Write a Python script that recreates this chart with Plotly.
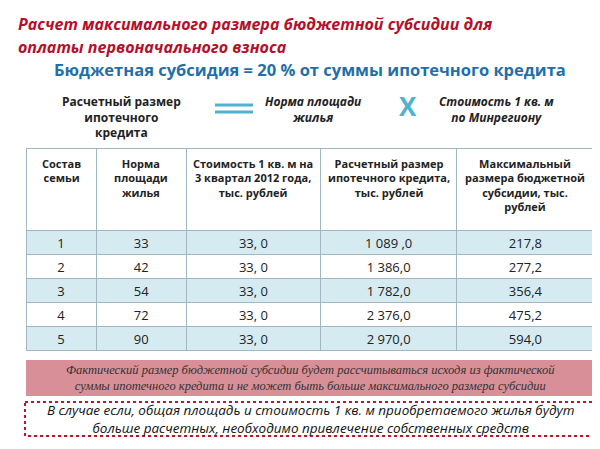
import plotly.graph_objects as go

headers = ['Состав<br>семьи', 'Норма<br>площади<br>жилья', 'Стоимость 1 кв. м на<br>3 квартал 2012 года,<br>тыс. рублей',
           'Расчетный размер<br>ипотечного кредита,<br>тыс. рублей', 'Максимальный<br>размера бюджетной<br>субсидии, тыс.<br>рублей']
family = ['1', '2', '3', '4', '5']
area_norm = ['33', '42', '54', '72', '90']
price_sqm = ['33, 0', '33, 0', '33, 0', '33, 0', '33, 0']
credit = ['1 089 ,0', '1 386,0', '1 782,0', '2 376,0', '2 970,0']
subsidy = ['217,8', '277,2', '356,4', '475,2', '594,0']

col_w = [70, 90, 134, 136, 137]
tbl_x0, tbl_x1 = 18, 586
row_fill = ['#d5ebf1' if i % 2 == 0 else 'white' for i in range(len(family))]

fig = go.Figure(go.Table(
    domain=dict(x=[tbl_x0/600, tbl_x1/600], y=[1 - 344/449, 1 - 140/449]),
    columnwidth=col_w,
    header=dict(values=[''] * 5, height=82, align='center', fill_color='white',
                line=dict(color='#9fb8c4', width=1),
                font=dict(family='Open Sans', size=11, color='#222')),
    cells=dict(values=[family, area_norm, price_sqm, credit, subsidy], height=24, align='center',
               fill_color=[row_fill] * 5, line=dict(color='#9fb8c4', width=1),
               font=dict(family='Open Sans', size=13, color='#222')),
))

# header labels as centred annotations (table header centres multiline text poorly)
scale = (tbl_x1 - tbl_x0) / sum(col_w)
left = tbl_x0
for h, w in zip(headers, col_w):
    cx = left + w * scale / 2
    left += w * scale
    fig.add_annotation(x=cx / 600, y=1 - 146 / 449, xref='paper', yref='paper', text='<b>' + h + '</b>',
                       showarrow=False, xanchor='center', yanchor='top', align='center',
                       font=dict(family='Open Sans', size=11, color='#222'))

ann = [
    dict(x=8, y=16, text='<b><i>Расчет максимального размера бюджетной субсидии для</i></b>', size=16, color='#b5102a', xa='left'),
    dict(x=8, y=39, text='<b><i>оплаты первоначального взноса</i></b>', size=16, color='#b5102a', xa='left'),
    dict(x=302, y=62, text='<b>Бюджетная субсидия = 20 % от суммы ипотечного кредита</b>', size=16.5, color='#1f6fa8', xa='center'),
    dict(x=113, y=109, text='<b>Расчетный размер<br>ипотечного<br>кредита</b>', size=12, color='#222', xa='center'),
    dict(x=305, y=101, text='<b><i>Норма площади<br>жилья</i></b>', size=12, color='#222', xa='center'),
    dict(x=400, y=98, text='<b>X</b>', size=26, color='#4fb3cf', xa='center'),
    dict(x=489, y=101, text='<b><i>Стоимость 1 кв. м<br>по Минрегиону</i></b>', size=12, color='#222', xa='center'),
    dict(x=302, y=370, text='<i>Фактический размер бюджетной субсидии будет рассчитываться исходя из фактической<br>суммы ипотечного кредита и не может быть больше максимального размера субсидии</i>',
         size=12.5, color='#333', xa='center', fam='Liberation Serif'),
    dict(x=302, y=411, text='<i>В случае если, общая площадь и стоимость 1 кв. м приобретаемого жилья будут<br>больше расчетных, необходимо привлечение собственных средств</i>',
         size=13.5, color='#111', xa='center'),
]
for a in ann:
    fig.add_annotation(x=a['x'] / 600, y=1 - a['y'] / 449, xref='paper', yref='paper', text=a['text'],
                       showarrow=False, xanchor=a['xa'], yanchor='middle', align='center',
                       font=dict(family=a.get('fam', 'Open Sans'), size=a['size'], color=a['color']))

shapes = [
    dict(type='line', x0=207, x1=245, y0=97, y1=97, line=dict(color='#4fb3cf', width=3)),
    dict(type='line', x0=207, x1=245, y0=104, y1=104, line=dict(color='#4fb3cf', width=3)),
    dict(type='rect', x0=18, x1=587, y0=352, y1=388, fillcolor='#d98f98', line=dict(width=0)),
    dict(type='rect', x0=17, x1=588, y0=394, y1=428, line=dict(color='#c0142a', width=2, dash='dot')),
]
for s in shapes:
    s.update(xref='paper', yref='paper', x0=s['x0'] / 600, x1=s['x1'] / 600,
             y0=1 - s['y0'] / 449, y1=1 - s['y1'] / 449, layer='below')
    fig.add_shape(**s)

fig.update_layout(width=600, height=449, margin=dict(l=0, r=0, t=0, b=0),
                  paper_bgcolor='white', plot_bgcolor='white')
fig.write_html('out.html')
